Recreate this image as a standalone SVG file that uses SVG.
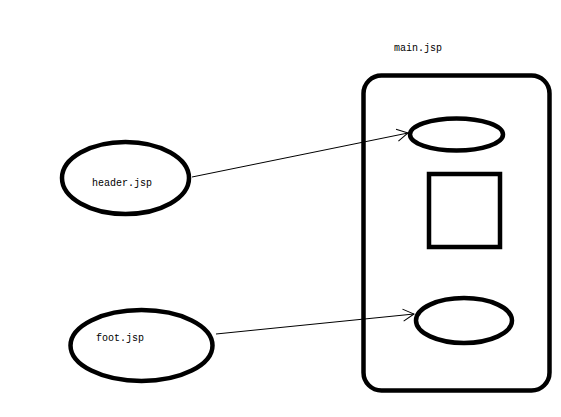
<svg xmlns="http://www.w3.org/2000/svg" width="561" height="417" viewBox="0 0 561 417">
<style>
.n{fill:none;stroke:#000;stroke-width:4.5}
.t{font-family:"Liberation Mono",monospace;font-size:10px;fill:#000}
.c{fill:none;stroke:#000;stroke-width:1}
</style>
<defs>
<marker id="a" markerWidth="14" markerHeight="14" refX="12" refY="7" orient="auto" markerUnits="userSpaceOnUse">
<path d="M1,1 L12,7 L1,13" fill="none" stroke="#000" stroke-width="1"/>
</marker>
</defs>
<rect width="561" height="417" fill="#fff"/>
<g id="main">
<rect class="n" x="363.5" y="75.5" width="186" height="315" rx="18" ry="18"/>
<text class="t" x="394" y="51">main.jsp</text>
</g>
<g id="slot-top"><ellipse class="n" cx="456.5" cy="134.5" rx="46.5" ry="16"/></g>
<g id="slot-mid"><rect class="n" x="429" y="174" width="71" height="73"/></g>
<g id="slot-bottom"><ellipse class="n" cx="464" cy="320.5" rx="48" ry="22.5"/></g>
<g id="header">
<ellipse class="n" cx="125.5" cy="178" rx="63.5" ry="36"/>
<text class="t" x="92" y="186">header.jsp</text>
</g>
<g id="foot">
<ellipse class="n" cx="141.5" cy="345.5" rx="71" ry="35.5"/>
<text class="t" x="96" y="341">foot.jsp</text>
</g>
<g id="connectors">
<line class="c" x1="192" y1="177" x2="408" y2="133" marker-end="url(#a)"/>
<line class="c" x1="216" y1="334" x2="414" y2="314" marker-end="url(#a)"/>
</g>
</svg>
